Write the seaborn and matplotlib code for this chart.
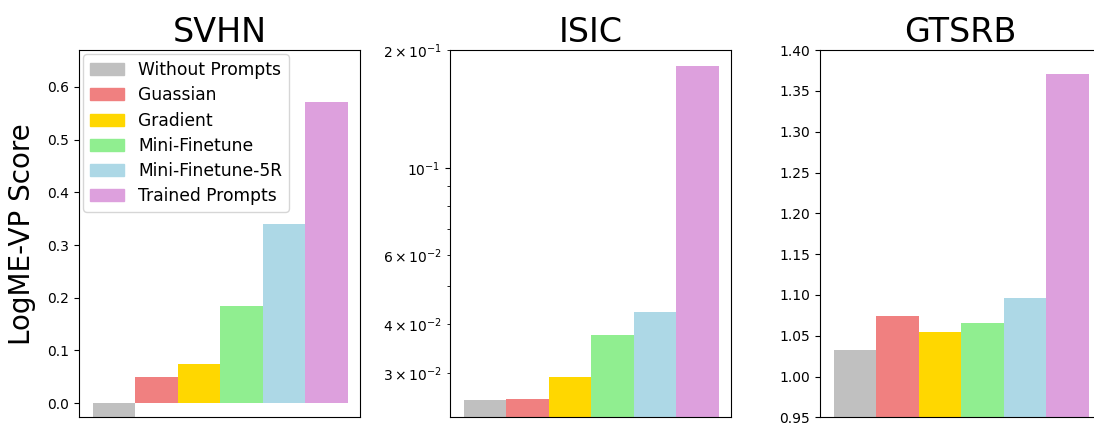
import matplotlib
matplotlib.use("Agg")
import matplotlib.pyplot as plt
import matplotlib.patches as mpatches
import seaborn as sns
import pandas as pd

# Methods and colours (one bar per method in each panel)
methods = ['Without Prompts', 'Guassian', 'Gradient', 'Mini-Finetune',
           'Mini-Finetune-5R', 'Trained Prompts']
colors = ['silver', 'lightcoral', 'gold', 'lightgreen', 'lightblue', 'plum']

datasets = ['SVHN', 'ISIC', 'GTSRB']
svhn_scores = [-0.03, 0.049, 0.075, 0.185, 0.340, 0.571]
isic_scores = [0.0255, 0.0257, 0.0293, 0.0374, 0.0428, 0.1824]
gtsrb_scores = [1.032, 1.074, 1.055, 1.066, 1.096, 1.371]


def build_frame():
    rows = []
    for name, scores in zip(datasets, [svhn_scores, isic_scores, gtsrb_scores]):
        for m, s in zip(methods, scores):
            rows.append({'dataset': name, 'method': m, 'score': s})
    return pd.DataFrame(rows)


def main():
    df = build_frame()
    palette = dict(zip(methods, colors))

    fig = plt.figure(figsize=(10.94, 4.26), dpi=100)
    lefts = [0.0722, 0.4113, 0.7495]
    axes = [fig.add_axes([l, 0.0204, 0.2569, 0.862]) for l in lefts]

    for ax, name in zip(axes, datasets):
        sub = df[df['dataset'] == name]
        sns.barplot(data=sub, x='method', y='score', hue='method', order=methods,
                    hue_order=methods, palette=palette, width=1, legend=False,
                    saturation=1, ax=ax, linewidth=0)
        ax.set_title(name, fontsize=24)
        ax.set_xlim(-0.82, 5.79)
        ax.set_xticks([])
        ax.set_xlabel('')
        ax.set_ylabel('')
        ax.tick_params(axis='y', labelsize=10)

    # SVHN
    axes[0].set_ylim(-0.027, 0.67)
    axes[0].set_ylabel('LogME-VP Score', fontsize=20, labelpad=8)
    handles = [mpatches.Patch(color=c, label=m) for m, c in zip(methods, colors)]
    axes[0].legend(handles=handles, loc='upper left', fontsize=12.3,
                   borderaxespad=0.25, labelspacing=0.42)

    # ISIC on a log scale
    axes[1].set_yscale('log')
    axes[1].set_ylim(0.0231, 0.2)

    # GTSRB
    axes[2].set_ylim(0.95, 1.40)

    plt.savefig('out.png', dpi=100)
    plt.close()


if __name__ == "__main__":
    main()
